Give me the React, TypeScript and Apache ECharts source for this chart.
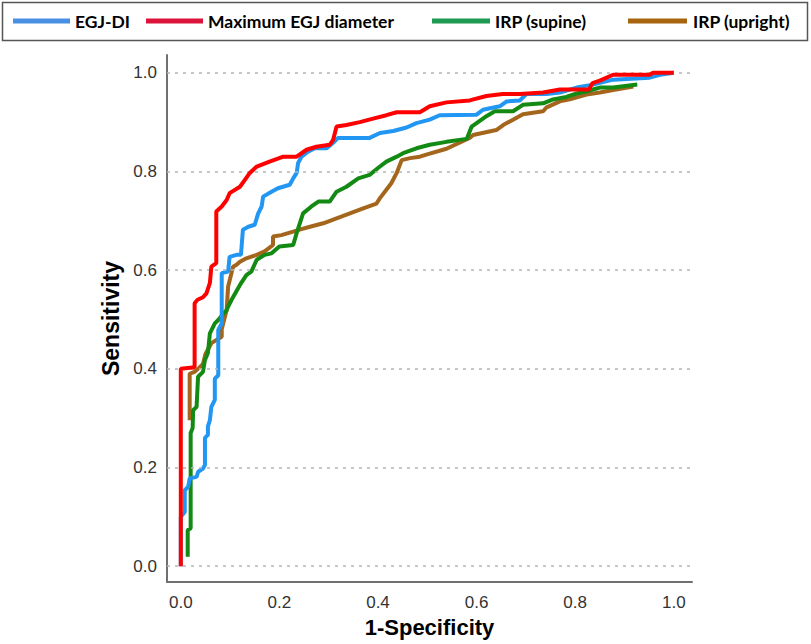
import React, { useEffect, useRef } from "react";
import * as echarts from "echarts";

const seriesNames = ["EGJ-DI", "Maximum EGJ diameter", "IRP (supine)", "IRP (upright)"];
const tickValues = [0, 0.2, 0.4, 0.6, 0.8, 1.0];

const egjDi: number[][] = [
  [0, 0], [0, 0.1], [0.008, 0.11], [0.008, 0.154], [0.015, 0.161], [0.018, 0.178], [0.032, 0.181],
  [0.035, 0.191], [0.045, 0.198], [0.049, 0.205], [0.049, 0.26], [0.055, 0.266], [0.055, 0.283],
  [0.059, 0.296], [0.062, 0.323], [0.069, 0.337], [0.069, 0.38], [0.076, 0.387], [0.076, 0.479],
  [0.083, 0.492], [0.083, 0.594], [0.096, 0.597], [0.099, 0.627], [0.113, 0.631], [0.122, 0.631],
  [0.126, 0.682], [0.137, 0.688], [0.15, 0.692], [0.157, 0.715], [0.164, 0.729], [0.167, 0.749],
  [0.184, 0.759], [0.197, 0.766], [0.221, 0.773], [0.228, 0.786], [0.235, 0.797], [0.238, 0.817],
  [0.245, 0.83], [0.258, 0.84], [0.272, 0.847], [0.296, 0.847], [0.309, 0.858], [0.319, 0.868],
  [0.383, 0.868], [0.404, 0.878], [0.431, 0.882], [0.458, 0.889], [0.478, 0.898], [0.505, 0.905],
  [0.525, 0.914], [0.6, 0.915], [0.613, 0.925], [0.647, 0.932], [0.661, 0.942], [0.688, 0.944],
  [0.701, 0.957], [0.742, 0.957], [0.769, 0.96], [0.803, 0.97], [0.836, 0.976], [0.877, 0.986],
  [0.951, 0.99], [0.972, 0.996], [1, 1],
];

const maxDiameter: number[][] = [
  [0, 0], [0, 0.4], [0.028, 0.403], [0.028, 0.533], [0.034, 0.54], [0.045, 0.545], [0.052, 0.553],
  [0.059, 0.574], [0.062, 0.607], [0.072, 0.614], [0.072, 0.719], [0.083, 0.729], [0.093, 0.742],
  [0.099, 0.756], [0.12, 0.769], [0.13, 0.783], [0.14, 0.797], [0.154, 0.81], [0.18, 0.82],
  [0.208, 0.83], [0.235, 0.83], [0.255, 0.844], [0.275, 0.85], [0.302, 0.854], [0.309, 0.864],
  [0.316, 0.891], [0.336, 0.894], [0.363, 0.9], [0.39, 0.907], [0.417, 0.914], [0.438, 0.92],
  [0.485, 0.92], [0.505, 0.932], [0.539, 0.94], [0.586, 0.944], [0.62, 0.953], [0.653, 0.957],
  [0.688, 0.957], [0.735, 0.96], [0.769, 0.966], [0.828, 0.966], [0.835, 0.979], [0.85, 0.984],
  [0.877, 0.996], [0.951, 0.996], [0.958, 1.0], [1, 1],
];

const irpSupine: number[][] = [
  [0.014, 0.019], [0.014, 0.073], [0.02, 0.077], [0.02, 0.27], [0.024, 0.28], [0.025, 0.316],
  [0.032, 0.323], [0.035, 0.384], [0.045, 0.394], [0.049, 0.418], [0.055, 0.432], [0.059, 0.472],
  [0.069, 0.492], [0.076, 0.499], [0.085, 0.51], [0.093, 0.519], [0.096, 0.526], [0.103, 0.54],
  [0.12, 0.57], [0.133, 0.59], [0.143, 0.597], [0.154, 0.621], [0.17, 0.631], [0.184, 0.634],
  [0.2, 0.648], [0.228, 0.651], [0.235, 0.675], [0.248, 0.715], [0.265, 0.729], [0.279, 0.739],
  [0.302, 0.739], [0.316, 0.759], [0.336, 0.769], [0.36, 0.786], [0.383, 0.793], [0.4, 0.807],
  [0.417, 0.82], [0.438, 0.83], [0.451, 0.837], [0.478, 0.847], [0.505, 0.854], [0.539, 0.86],
  [0.58, 0.866], [0.59, 0.891], [0.6, 0.898], [0.62, 0.912], [0.637, 0.922], [0.674, 0.922],
  [0.694, 0.935], [0.735, 0.938], [0.755, 0.946], [0.782, 0.951], [0.803, 0.958], [0.823, 0.962],
  [0.836, 0.966], [0.85, 0.97], [0.877, 0.97], [0.926, 0.976],
];

const irpUpright: number[][] = [
  [0.018, 0.296], [0.018, 0.39], [0.028, 0.394], [0.035, 0.4], [0.045, 0.41], [0.05, 0.43],
  [0.062, 0.452], [0.083, 0.465], [0.083, 0.48], [0.093, 0.519], [0.096, 0.567], [0.106, 0.607],
  [0.113, 0.611], [0.12, 0.617], [0.133, 0.624], [0.154, 0.631], [0.17, 0.638], [0.187, 0.651],
  [0.187, 0.668], [0.204, 0.671], [0.228, 0.678], [0.241, 0.682], [0.262, 0.688], [0.289, 0.695],
  [0.316, 0.705], [0.343, 0.715], [0.37, 0.725], [0.397, 0.735], [0.404, 0.746], [0.417, 0.763],
  [0.427, 0.776], [0.438, 0.797], [0.448, 0.823], [0.465, 0.827], [0.485, 0.83], [0.498, 0.834],
  [0.539, 0.846], [0.586, 0.868], [0.593, 0.874], [0.64, 0.884], [0.654, 0.894], [0.674, 0.905],
  [0.694, 0.916], [0.735, 0.922], [0.742, 0.93], [0.769, 0.942], [0.789, 0.946], [0.823, 0.956],
  [0.85, 0.96], [0.877, 0.965], [0.918, 0.972],
];

const lineColors = ["#2196f3", "#ff0000", "#138a13", "#a3661c"];
const legendColors = ["#4a90e2", "#dc143c", "#1f9a52", "#a8650f"];

export default function App() {
  const ref = useRef<HTMLDivElement>(null);

  useEffect(() => {
    if (!ref.current) return;
    const chart = echarts.init(ref.current, null, { renderer: "svg" });

    const legendItems = [
      { name: seriesNames[0], x1: 13, x2: 70, tx: 75 },
      { name: seriesNames[1], x1: 146, x2: 203, tx: 208 },
      { name: seriesNames[2], x1: 432, x2: 490, tx: 495 },
      { name: seriesNames[3], x1: 628, x2: 687, tx: 693 },
    ];

    const graphics: any[] = [
      {
        type: "rect",
        shape: { x: 2.5, y: 2.5, width: 805, height: 38 },
        style: { fill: "#ffffff", stroke: "#555555", lineWidth: 1.5 },
        z: 10,
      },
    ];
    legendItems.forEach((it, i) => {
      graphics.push({
        type: "line",
        shape: { x1: it.x1, y1: 21, x2: it.x2, y2: 21 },
        style: { stroke: legendColors[i], lineWidth: 5 },
        z: 11,
      });
      graphics.push({
        type: "text",
        x: it.tx,
        y: 21,
        style: {
          text: it.name,
          fill: "#000000",
          font: "bold 17.5px Lato, 'Open Sans', sans-serif",
          textVerticalAlign: "middle",
          verticalAlign: "middle",
        },
        z: 11,
      });
    });

    const mkSeries = (name: string, data: number[][], color: string, z: number) => ({
      name,
      type: "line",
      data,
      showSymbol: false,
      symbol: "none",
      z,
      lineStyle: { color, width: 4 },
      itemStyle: { color },
    });

    chart.setOption({
      animation: false,
      backgroundColor: "#ffffff",
      grid: { left: 167, right: 119, top: 55, bottom: 62, containLabel: false },
      xAxis: {
        type: "value",
        min: -0.028,
        max: 1.037,
        name: "1-Specificity",
        nameLocation: "middle",
        nameGap: 34,
        nameTextStyle: {
          fontFamily: "'Liberation Sans', Arial, sans-serif",
          fontWeight: "bold",
          fontSize: 22,
          color: "#000000",
        },
        axisLine: { show: true, onZero: false, lineStyle: { color: "#707070", width: 2 } },
        axisTick: { show: false },
        splitLine: { show: false },
        axisLabel: {
          customValues: tickValues,
          formatter: (v: number) => v.toFixed(1),
          fontFamily: "'Liberation Sans', Arial, sans-serif",
          fontSize: 17,
          color: "#333333",
          margin: 12,
        },
      },
      yAxis: {
        type: "value",
        min: -0.032,
        max: 1.036,
        name: "Sensitivity",
        nameLocation: "middle",
        nameGap: 42,
        nameRotate: 90,
        nameTextStyle: {
          fontFamily: "'Liberation Sans', Arial, sans-serif",
          fontWeight: "bold",
          fontSize: 23,
          color: "#000000",
        },
        axisLine: { show: true, onZero: false, lineStyle: { color: "#707070", width: 2 } },
        axisTick: { show: false },
        splitLine: { show: false },
        axisLabel: {
          customValues: tickValues,
          formatter: (v: number) => v.toFixed(1),
          fontFamily: "'Liberation Sans', Arial, sans-serif",
          fontSize: 17,
          color: "#333333",
          margin: 10,
        },
      },
      series: [
        {
          name: "grid",
          type: "line",
          data: [],
          silent: true,
          markLine: {
            silent: true,
            symbol: "none",
            label: { show: false },
            lineStyle: { color: "#b4b4b4", type: [3, 5], width: 1.5 },
            data: tickValues.map((v) => ({ yAxis: v })),
          },
          z: 1,
        },
        mkSeries(seriesNames[3], irpUpright, lineColors[3], 2),
        mkSeries(seriesNames[2], irpSupine, lineColors[2], 3),
        mkSeries(seriesNames[0], egjDi, lineColors[0], 4),
        mkSeries(seriesNames[1], maxDiameter, lineColors[1], 5),
      ],
      graphic: graphics,
    });

    return () => chart.dispose();
  }, []);

  return <div ref={ref} style={{ width: 811, height: 644, position: "absolute", left: 0, top: 0 }} />;
}
